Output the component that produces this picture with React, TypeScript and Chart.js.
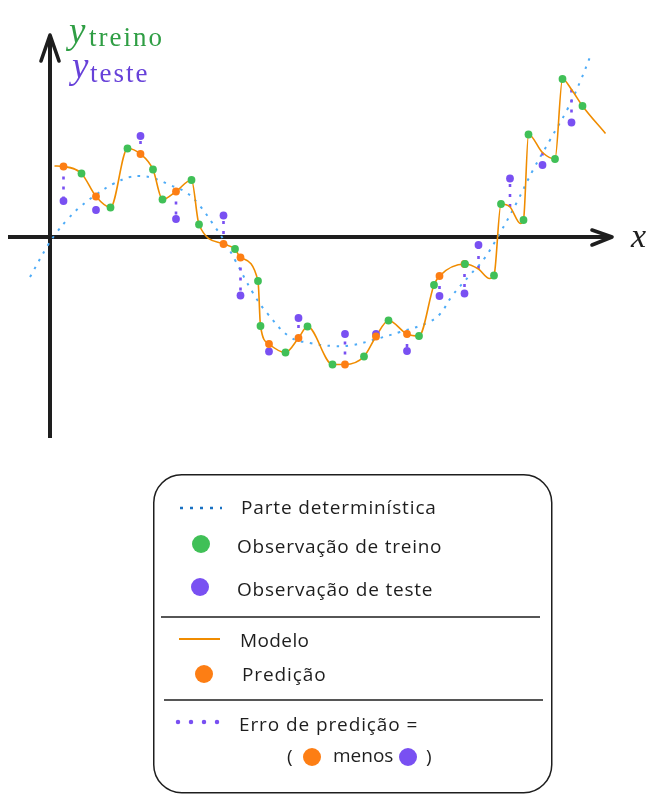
import React, { useEffect, useRef } from 'react';
import { Chart, registerables } from 'chart.js';

Chart.register(...registerables);

// ---- Data (x, y in chart units; origin at the axes crossing) ----
const trainX = [0.63, 1.21, 1.55, 2.06, 2.25, 2.83, 2.98, 3.70, 4.16, 4.21, 4.71, 5.15, 5.65, 6.28, 6.77, 7.38, 7.68, 8.30, 8.88, 9.02, 9.47, 9.57, 10.10, 10.25, 10.65];
const trainY = [1.27, 0.59, 1.77, 1.35, 0.75, 1.14, 0.25, -0.24, -0.88, -1.78, -2.31, -1.79, -2.55, -2.39, -1.67, -1.98, -0.96, -0.54, -0.77, 0.66, 0.34, 2.05, 1.56, 3.16, 2.62];

const testX = [0.27, 0.92, 1.81, 2.52, 3.47, 3.81, 4.38, 4.97, 5.90, 6.52, 7.14, 7.79, 8.29, 8.57, 9.20, 9.85, 10.43];
const testY = [0.72, 0.54, 2.02, 0.36, 0.43, -1.17, -2.29, -1.62, -1.94, -1.94, -2.28, -1.18, -1.13, -0.16, 1.17, 1.44, 2.29];
const predY = [1.41, 0.81, 1.66, 0.91, -0.14, -0.41, -2.14, -2.02, -2.55, -1.99, -1.94, -0.78, -0.54, -0.64, 0.60, 1.69, 2.95];
const predMarked = [1, 1, 1, 1, 1, 1, 1, 1, 1, 1, 1, 1, 1, 0, 0, 0, 0];

// extra knots of the fitted model curve (ends and local minima)
const modelExtraX = [0.09, 8.79, 9.41, 11.11];
const modelExtraY = [1.42, -0.83, 0.27, 2.07];

// deterministic part (smooth trend)
const detX = [-0.40, -0.04, 0.14, 0.34, 0.60, 0.94, 1.26, 1.60, 1.80, 2.06, 2.40, 2.74, 3.00, 3.26, 3.50, 3.70, 4.06, 4.34, 4.80, 5.20, 5.66, 6.06, 6.46, 7.00, 7.54, 7.80, 8.04, 8.40, 8.68, 9.00, 9.34, 9.66, 10.00, 10.34, 10.60, 10.80];
const detY = [-0.80, -0.16, 0.10, 0.34, 0.60, 0.86, 1.06, 1.20, 1.22, 1.18, 1.04, 0.88, 0.62, 0.26, -0.10, -0.46, -1.12, -1.52, -2.00, -2.12, -2.18, -2.16, -2.06, -1.90, -1.72, -1.54, -1.18, -0.76, -0.44, 0.08, 0.70, 1.34, 1.94, 2.54, 3.10, 3.60];

const X_RANGE = [-1, 12.28];
const Y_RANGE = [-4.46, 4.74];
const X_AXIS_EXTENT = [-0.84, 11.24];
const Y_AXIS_EXTENT = [-4.02, 4.04];

const GREEN = '#40c057';
const PURPLE = '#7950f2';
const ORANGE = '#fd7e14';
const ORANGE_LINE = '#f08c00';
const BLUE = '#4dabf7';
const INK = '#1e1e1e';

const arrowAxes = {
  id: 'arrowAxes',
  beforeDatasetsDraw(chart: any) {
    const { ctx, scales } = chart;
    const xs = scales.x, ys = scales.y;
    const x0 = xs.getPixelForValue(0);
    const y0 = ys.getPixelForValue(0);
    const xa = xs.getPixelForValue(X_AXIS_EXTENT[0]);
    const xb = xs.getPixelForValue(X_AXIS_EXTENT[1]);
    const ya = ys.getPixelForValue(Y_AXIS_EXTENT[0]);
    const yb = ys.getPixelForValue(Y_AXIS_EXTENT[1]);
    ctx.save();
    ctx.strokeStyle = INK;
    ctx.lineWidth = 4;
    ctx.lineCap = 'butt';
    ctx.beginPath();
    ctx.moveTo(xa, y0);
    ctx.lineTo(xb - 2, y0);
    ctx.moveTo(x0, ya);
    ctx.lineTo(x0, yb + 2);
    ctx.stroke();
    ctx.lineCap = 'round';
    ctx.lineJoin = 'round';
    ctx.lineWidth = 3.6;
    ctx.beginPath();
    ctx.moveTo(xb - 20, y0 - 7);
    ctx.lineTo(xb, y0);
    ctx.lineTo(xb - 20, y0 + 8);
    ctx.moveTo(x0 - 9, yb + 26);
    ctx.lineTo(x0, yb);
    ctx.lineTo(x0 + 9, yb + 26);
    ctx.stroke();
    ctx.restore();
  },
};

function buildModel() {
  const pts: { x: number; y: number }[] = [];
  trainX.forEach((x, i) => pts.push({ x, y: trainY[i] }));
  testX.forEach((x, i) => {
    if (trainX.some((t) => Math.abs(t - x) < 0.03)) return;
    pts.push({ x, y: predY[i] });
  });
  modelExtraX.forEach((x, i) => pts.push({ x, y: modelExtraY[i] }));
  pts.sort((a, b) => a.x - b.x);
  return pts;
}

function ChartCanvas() {
  const ref = useRef<HTMLCanvasElement | null>(null);
  useEffect(() => {
    if (!ref.current) return;
    const errPts: any[] = [];
    testX.forEach((x, i) => {
      errPts.push({ x, y: predY[i] });
      errPts.push({ x, y: testY[i] });
      errPts.push({ x, y: null });
    });
    const chart = new Chart(ref.current, {
      type: 'line',
      data: {
        datasets: [
          {
            label: 'Observação de treino',
            data: trainX.map((x, i) => ({ x, y: trainY[i] })),
            showLine: false,
            pointRadius: 3.9,
            pointBackgroundColor: GREEN,
            pointBorderWidth: 0,
            clip: false,
            order: 0,
          },
          {
            label: 'Predição',
            data: testX.map((x, i) => ({ x, y: predY[i] })),
            showLine: false,
            pointRadius: predMarked.map((m) => (m ? 3.9 : 0)),
            pointBackgroundColor: ORANGE,
            pointBorderWidth: 0,
            clip: false,
            order: 1,
          },
          {
            label: 'Observação de teste',
            data: testX.map((x, i) => ({ x, y: testY[i] })),
            showLine: false,
            pointRadius: 3.9,
            pointBackgroundColor: PURPLE,
            pointBorderWidth: 0,
            clip: false,
            order: 2,
          },
          {
            label: 'Modelo',
            data: buildModel(),
            borderColor: ORANGE_LINE,
            borderWidth: 1.6,
            pointRadius: 0,
            cubicInterpolationMode: 'monotone',
            order: 3,
          },
          {
            label: 'Erro de predição',
            data: errPts,
            borderColor: PURPLE,
            borderWidth: 2.6,
            borderDash: [3, 7],
            pointRadius: 0,
            spanGaps: false,
            tension: 0,
            order: 4,
          },
          {
            label: 'Parte determinística',
            data: detX.map((x, i) => ({ x, y: detY[i] })),
            borderColor: BLUE,
            borderWidth: 2,
            borderDash: [2.5, 6.5],
            pointRadius: 0,
            tension: 0.4,
            order: 5,
          },
        ] as any,
      },
      options: {
        responsive: false,
        maintainAspectRatio: false,
        animation: false,
        events: [],
        layout: { padding: 0, autoPadding: false },
        scales: {
          x: { type: 'linear', min: X_RANGE[0], max: X_RANGE[1], display: false },
          y: { type: 'linear', min: Y_RANGE[0], max: Y_RANGE[1], display: false },
        },
        plugins: { legend: { display: false }, tooltip: { enabled: false } },
      } as any,
      plugins: [arrowAxes],
    });
    return () => chart.destroy();
  }, []);
  return (
    <canvas
      ref={ref}
      width={664}
      height={460}
      style={{ position: 'absolute', left: 0, top: 0, width: 664, height: 460 }}
    />
  );
}

const MATH = '"Liberation Serif", "DejaVu Serif", serif';
const HAND = '"Open Sans", "Noto Sans", sans-serif';

function Txt(props: { left: number; baseline: number; size: number; font: string; color?: string; italic?: boolean; spacing?: number; weight?: number; children: any }) {
  const k = props.font === MATH ? 0.8375 : 0.943;
  return (
    <span
      style={{
        position: 'absolute',
        left: props.left,
        top: props.baseline - props.size * k,
        fontSize: props.size,
        lineHeight: `${props.size}px`,
        fontFamily: props.font,
        fontStyle: props.italic ? 'italic' : 'normal',
        fontWeight: props.weight || 400,
        color: props.color || INK,
        letterSpacing: props.spacing ? `${props.spacing}px` : 'normal',
        whiteSpace: 'nowrap',
      }}
    >
      {props.children}
    </span>
  );
}

export default function App() {
  return (
    <div style={{ position: 'absolute', left: 0, top: 0, width: 664, height: 802, background: '#fff', overflow: 'hidden' }}>
      <ChartCanvas />
      {/* axis labels */}
      <Txt left={69} baseline={43} size={37} font={MATH} color="#2f9e44" italic>y</Txt>
      <Txt left={89} baseline={47} size={27} font={MATH} color="#2f9e44" spacing={2}>treino</Txt>
      <Txt left={72} baseline={78} size={37} font={MATH} color="#6741d9" italic>y</Txt>
      <Txt left={90} baseline={83} size={27} font={MATH} color="#6741d9" spacing={2}>teste</Txt>
      <Txt left={631} baseline={247} size={34} font={MATH} italic>x</Txt>

      {/* legend */}
      <svg width={664} height={802} style={{ position: 'absolute', left: 0, top: 0 }}>
        <rect x={153.75} y={474.75} width={398} height={318} rx={28} ry={28} fill="none" stroke={INK} strokeWidth={1.5} />
        <line x1={180} y1={508} x2={222} y2={508} stroke="#1971c2" strokeWidth={2.5} strokeDasharray="3 7" />
        <circle cx={201} cy={544} r={9} fill={GREEN} />
        <circle cx={200} cy={587} r={9} fill={PURPLE} />
        <line x1={161} y1={617} x2={540} y2={617} stroke={INK} strokeWidth={1.5} />
        <line x1={179} y1={639} x2={220} y2={639} stroke={ORANGE_LINE} strokeWidth={2} />
        <circle cx={204} cy={674} r={9} fill={ORANGE} />
        <line x1={164} y1={700} x2={543} y2={700} stroke={INK} strokeWidth={1.5} />
        <line x1={178} y1={722} x2={220} y2={722} stroke={PURPLE} strokeWidth={4.5} strokeLinecap="round" strokeDasharray="0 13" />
        <circle cx={312} cy={757} r={9} fill={ORANGE} />
        <circle cx={408} cy={757} r={9} fill={PURPLE} />
      </svg>
      <Txt left={241} baseline={516} size={19} font={HAND} spacing={0.85} weight={500}>Parte determinística</Txt>
      <Txt left={237} baseline={555} size={19} font={HAND} spacing={0.75} weight={500}>Observação de treino</Txt>
      <Txt left={237} baseline={598} size={19} font={HAND} spacing={0.8} weight={500}>Observação de teste</Txt>
      <Txt left={240} baseline={649} size={19} font={HAND} spacing={0.4} weight={500}>Modelo</Txt>
      <Txt left={242} baseline={683} size={19} font={HAND} spacing={0.9} weight={500}>Predição</Txt>
      <Txt left={239} baseline={733} size={19} font={HAND} spacing={0.9} weight={500}>Erro de predição =</Txt>
      <Txt left={287} baseline={765} size={19} font={HAND} weight={500}>(</Txt>
      <Txt left={333} baseline={764} size={19} font={HAND} weight={500}>menos</Txt>
      <Txt left={426} baseline={765} size={19} font={HAND} weight={500}>)</Txt>
    </div>
  );
}
